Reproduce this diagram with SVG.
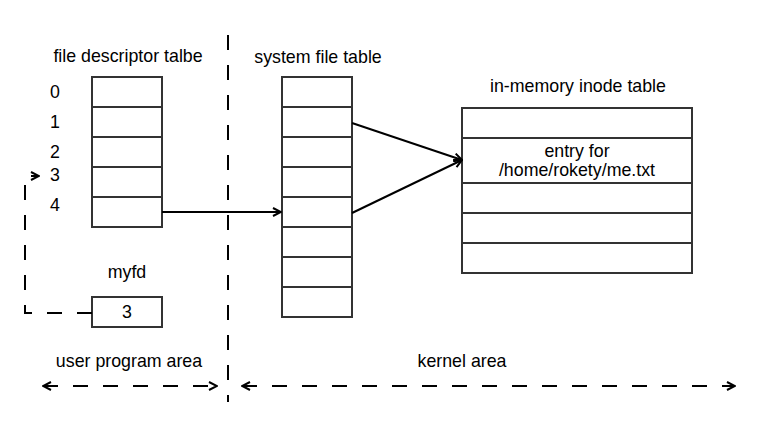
<svg xmlns="http://www.w3.org/2000/svg" width="760" height="428" viewBox="0 0 760 428">
<defs>
<marker id="arr" viewBox="0 0 10 10" refX="9" refY="5" markerWidth="10" markerHeight="10" markerUnits="userSpaceOnUse" orient="auto-start-reverse">
<path d="M1,1 L9,5 L1,9" fill="none" stroke="#000" stroke-width="2"/>
</marker>
</defs>
<style>
text{font-family:"Liberation Sans",Arial,sans-serif;font-size:17.8px;fill:#000;text-anchor:middle}
.box{fill:#fff;stroke:#333;stroke-width:2}
.ln{stroke:#333;stroke-width:2}
.c{fill:none;stroke:#000;stroke-width:2}
.d{fill:none;stroke:#000;stroke-width:2;stroke-dasharray:15 15}
</style>
<rect width="760" height="428" fill="#fff"/>
<g id="divider"><line x1="228" y1="35" x2="228" y2="402" class="d"/></g>
<g id="fd-table">
<text x="128" y="62">file descriptor talbe</text>
<rect class="box" x="92" y="77" width="70" height="150"/>
<line class="ln" x1="92" y1="107" x2="162" y2="107"/>
<line class="ln" x1="92" y1="137" x2="162" y2="137"/>
<line class="ln" x1="92" y1="167" x2="162" y2="167"/>
<line class="ln" x1="92" y1="197" x2="162" y2="197"/>
<text x="55" y="98">0</text>
<text x="55" y="128">1</text>
<text x="55" y="158">2</text>
<text x="55" y="181">3</text>
<text x="55" y="211">4</text>
</g>
<g id="myfd">
<text x="127" y="278">myfd</text>
<rect class="box" x="92" y="297" width="70" height="30"/>
<text x="127" y="318">3</text>
</g>
<g id="system-file-table">
<text x="318" y="63">system file table</text>
<rect class="box" x="282" y="77" width="70" height="240"/>
<line class="ln" x1="282" y1="107" x2="352" y2="107"/>
<line class="ln" x1="282" y1="137" x2="352" y2="137"/>
<line class="ln" x1="282" y1="167" x2="352" y2="167"/>
<line class="ln" x1="282" y1="197" x2="352" y2="197"/>
<line class="ln" x1="282" y1="227" x2="352" y2="227"/>
<line class="ln" x1="282" y1="257" x2="352" y2="257"/>
<line class="ln" x1="282" y1="287" x2="352" y2="287"/>
</g>
<g id="inode-table">
<text x="578" y="92">in-memory inode table</text>
<rect class="box" x="462" y="108" width="230" height="165"/>
<line class="ln" x1="462" y1="138" x2="692" y2="138"/>
<line class="ln" x1="462" y1="183" x2="692" y2="183"/>
<line class="ln" x1="462" y1="213" x2="692" y2="213"/>
<line class="ln" x1="462" y1="243" x2="692" y2="243"/>
<text x="577" y="157">entry for</text>
<text x="577" y="176">/home/rokety/me.txt</text>
</g>
<g id="areas">
<text x="129" y="367">user program area</text>
<text x="462" y="367">kernel area</text>
</g>
<g id="connectors">
<line class="c" x1="162" y1="212" x2="281" y2="212" marker-end="url(#arr)"/>
<line class="c" x1="352" y1="123" x2="462" y2="160" marker-end="url(#arr)"/>
<line class="c" x1="352" y1="213" x2="462" y2="160" marker-end="url(#arr)"/>
<path class="d" d="M92,313 H25 V176 H39" marker-end="url(#arr)"/>
<line class="d" x1="43" y1="386" x2="217" y2="386" marker-start="url(#arr)" marker-end="url(#arr)"/>
<line class="d" x1="242" y1="386" x2="735" y2="386" marker-start="url(#arr)" marker-end="url(#arr)"/>
</g>
</svg>
